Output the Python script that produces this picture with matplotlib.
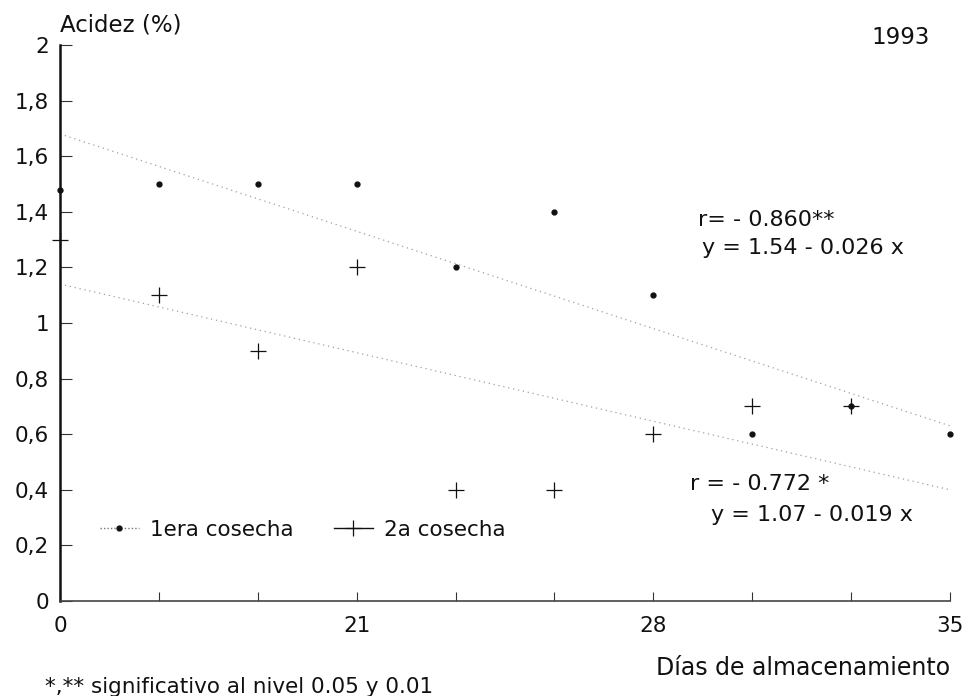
import numpy as np
import matplotlib
matplotlib.use('Agg')
import matplotlib.pyplot as plt
from matplotlib.lines import Line2D

# datos (posiciones de muestreo equiespaciadas)
posicion = list(range(10))
dias_etiquetas = ['0', '', '', '21', '', '', '28', '', '', '35']
acidez_1era = [1.48, 1.5, 1.5, 1.5, 1.2, 1.4, 1.1, 0.6, 0.7, 0.6]
acidez_2a = [1.3, 1.1, 0.9, 1.2, 0.4, 0.4, 0.6, 0.7, 0.7, np.nan]
y_ticks = [0, 0.2, 0.4, 0.6, 0.8, 1, 1.2, 1.4, 1.6, 1.8, 2]
y_etiquetas = ['0', '0,2', '0,4', '0,6', '0,8', '1', '1,2', '1,4', '1,6', '1,8', '2']

# rectas de regresion (extremos leidos)
ajuste_x = [0, 9]
ajuste_1era = [1.68, 0.63]
ajuste_2a = [1.14, 0.40]

plt.rcParams['font.family'] = ['DejaVu Sans']
tinta = '#111111'

fig = plt.figure(figsize=(9.64, 6.96), dpi=100)
ax = fig.add_axes([60 / 964, 1 - 601 / 696, 890 / 964, 556 / 696])

ax.plot(ajuste_x, ajuste_1era, linestyle=(0, (1, 3)), color='#a0a0a0', lw=0.9)
ax.plot(ajuste_x, ajuste_2a, linestyle=(0, (1, 3)), color='#a0a0a0', lw=0.9)

ax.plot(posicion, acidez_1era, linestyle='none', marker='o', ms=3.5,
        color=tinta, clip_on=False, zorder=3)
ax.plot(posicion, acidez_2a, linestyle='none', marker='+', ms=12, mew=0.9,
        color=tinta, clip_on=False, zorder=3)

ax.set_xlim(0, 9)
ax.set_ylim(0, 2)
ax.set_xticks(posicion)
ax.set_xticklabels(dias_etiquetas, fontsize=15.5, color=tinta)
ax.set_yticks(y_ticks)
ax.set_yticklabels(y_etiquetas, fontsize=15.5, color=tinta)
ax.tick_params(axis='y', direction='in', length=8.5, width=0.8, pad=8, color='#333333')
ax.tick_params(axis='x', direction='in', length=6.5, width=0.8, pad=11, color='#333333')

for s in ['top', 'right']:
    ax.spines[s].set_visible(False)
ax.spines['left'].set_linewidth(1.8)
ax.spines['left'].set_color(tinta)
ax.spines['bottom'].set_linewidth(1.2)
ax.spines['bottom'].set_color('#444444')

# ecuaciones
ax.text(6.45, 1.37, 'r= - 0.860**', fontsize=16, color=tinta, va='center', ha='left')
ax.text(6.49, 1.27, 'y = 1.54 - 0.026 x', fontsize=16, color=tinta, va='center', ha='left')
ax.text(6.37, 0.42, 'r = - 0.772 *', fontsize=16, color=tinta, va='center', ha='left')
ax.text(6.58, 0.31, 'y = 1.07 - 0.019 x', fontsize=16, color=tinta, va='center', ha='left')

# leyenda
h1 = Line2D([], [], linestyle=(0, (1, 1.5)), color='#777777', lw=1.0,
            marker='o', ms=3.5, mfc=tinta, mec=tinta)
h2 = Line2D([], [], linestyle='-', color=tinta, lw=1.0, marker='+', ms=12, mew=0.9)
fig.legend([h1, h2], ['1era cosecha', '2a cosecha'], loc='center left',
           bbox_to_anchor=(100 / 964, 1 - 530 / 696), ncol=2, frameon=False,
           fontsize=15.5, handlelength=1.8, handletextpad=0.5, columnspacing=1.9,
           borderpad=0, borderaxespad=0, labelcolor=tinta)

fig.text(60 / 964, 1 - 25 / 696, 'Acidez (%)', fontsize=16.5, color=tinta,
         ha='left', va='center')
fig.text(930 / 964, 1 - 38 / 696, '1993', fontsize=16.5, color=tinta,
         ha='right', va='center')
fig.text(950 / 964, 1 - 668 / 696, 'Días de almacenamiento', fontsize=17,
         color=tinta, ha='right', va='center')
fig.text(45 / 964, 1 - 687 / 696, '*,** significativo al nivel 0.05 y 0.01',
         fontsize=15.5, color=tinta, ha='left', va='center')

fig.savefig('out.png', dpi=100)
